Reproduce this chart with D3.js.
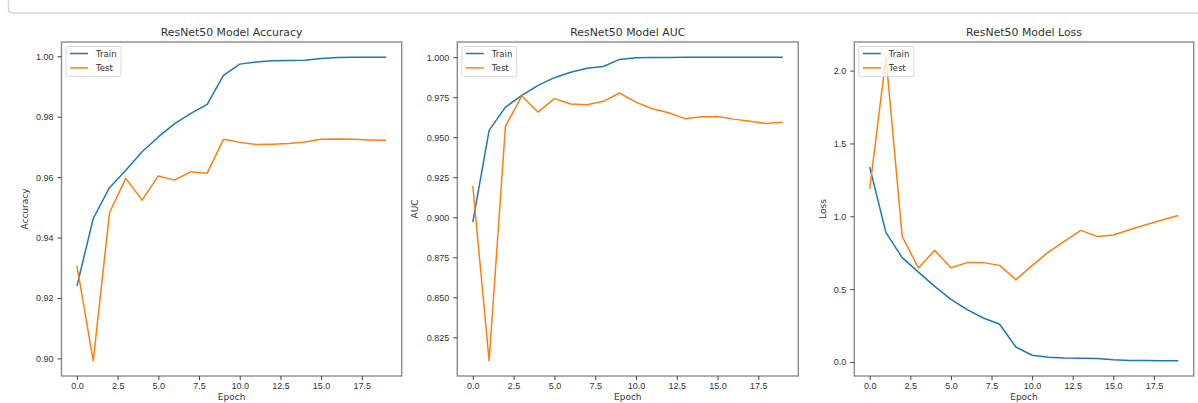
<!DOCTYPE html>
<html>
<head>
<meta charset="utf-8">
<script src="https://cdn.jsdelivr.net/npm/d3@7"></script>
<style>
  body { margin: 0; background: #fff; }
  svg { display: block; font-family: "DejaVu Sans", sans-serif; }
  .axis path { display: none; }
  .axis line { stroke: #444; }
  .axis text { fill: #333; font-size: 9px; }
  .chart-title { font-size: 10.9px; fill: #333; }
  .axis-label { font-size: 9px; fill: #333; }
  .legend text { font-size: 8.6px; fill: #333; }
</style>
</head>
<body>
<div id="figure"></div>
<script>
// epochs and values
const epochs = [0, 1, 2, 3, 4, 5, 6, 7, 8, 9, 10, 11, 12, 13, 14, 15, 16, 17, 18, 19];
const seriesNames = ["Train", "Test"];

const accTrain = [0.924, 0.9463, 0.9565, 0.9623, 0.9684, 0.9733, 0.9777, 0.9811, 0.9841, 0.9937,
                  0.9974, 0.9981, 0.9985, 0.9986, 0.9987, 0.9993, 0.9996, 0.9997, 0.9997, 0.9997];
const accTest = [0.9306, 0.8992, 0.9482, 0.9596, 0.9524, 0.9604, 0.959, 0.9618, 0.9613, 0.9725,
                 0.9715, 0.9708, 0.9709, 0.9711, 0.9716, 0.9725, 0.9726, 0.9725, 0.9723, 0.9722];

const aucTrain = [0.897, 0.9543, 0.9688, 0.9761, 0.9824, 0.9872, 0.9906, 0.9931, 0.9942, 0.9986,
                  0.9996, 0.9998, 0.9998, 0.9999, 0.9999, 0.9999, 1.0, 1.0, 1.0, 1.0];
const aucTest = [0.9196, 0.8103, 0.9568, 0.9757, 0.9657, 0.9741, 0.9707, 0.9703, 0.9724, 0.9776,
                 0.9719, 0.9678, 0.9653, 0.9616, 0.9628, 0.963, 0.9613, 0.9599, 0.9585, 0.9593];

const lossTrain = [1.337, 0.8875, 0.716, 0.617, 0.519, 0.43, 0.359, 0.302, 0.259, 0.103,
                   0.046, 0.032, 0.027, 0.025, 0.024, 0.015, 0.011, 0.01, 0.009, 0.008];
const lossTest = [1.189, 2.092, 0.862, 0.645, 0.766, 0.647, 0.682, 0.682, 0.663, 0.565,
                  0.661, 0.754, 0.83, 0.903, 0.862, 0.871, 0.908, 0.942, 0.974, 1.006];

const xTicks = [0, 2.5, 5, 7.5, 10, 12.5, 15, 17.5];
const accTicks = [0.90, 0.92, 0.94, 0.96, 0.98, 1.00];
const aucTicks = [0.825, 0.850, 0.875, 0.900, 0.925, 0.950, 0.975, 1.000];
const lossTicks = [0.0, 0.5, 1.0, 1.5, 2.0];

const colors = ["#1f77b4", "#ff7f0e"];

const W = 1198, H = 403;
const svg = d3.select("#figure").append("svg")
    .attr("width", W)
    .attr("height", H);

// faint border left over from the notebook cell above
svg.append("path")
    .attr("d", "M8.5,0 V9 Q8.5,13 12.5,13 H1198")
    .attr("fill", "none")
    .attr("stroke", "#d8d8d8")
    .attr("stroke-width", 1.5);

function LinePanel(opts) {
    this.left = opts.left;
    this.right = opts.right;
    this.top = 42;
    this.bottom = 376;
    this.title = opts.title;
    this.ylabel = opts.ylabel;
    this.ylabelX = opts.ylabelX;
    this.series = opts.series;
    this.yTicks = opts.yTicks;
    this.yFormat = opts.yFormat;
}

LinePanel.prototype = {
    constructor: LinePanel,

    init: function() {
        let self = this;
        let all = self.series[0].concat(self.series[1]);
        let lo = d3.min(all), hi = d3.max(all);
        let pad = (hi - lo) * 0.05;

        self.x = d3.scaleLinear()
            .domain([-0.95, 19.95])
            .range([self.left, self.right]);
        self.y = d3.scaleLinear()
            .domain([lo - pad, hi + pad])
            .range([self.bottom, self.top]);

        let g = svg.append("g");

        let line = d3.line()
            .x((d, i) => self.x(epochs[i]))
            .y(d => self.y(d));

        self.series.forEach(function(s, k) {
            g.append("path")
                .datum(s)
                .attr("fill", "none")
                .attr("stroke", colors[k])
                .attr("stroke-width", 1.5)
                .attr("stroke-linejoin", "round")
                .attr("d", line);
        });

        g.append("rect")
            .attr("x", self.left)
            .attr("y", self.top)
            .attr("width", self.right - self.left)
            .attr("height", self.bottom - self.top)
            .attr("fill", "none")
            .attr("stroke", "#8a8a8a")
            .attr("stroke-width", 1.4);

        g.append("g")
            .attr("class", "axis")
            .attr("transform", "translate(0," + self.bottom + ")")
            .call(d3.axisBottom(self.x)
                .tickValues(xTicks)
                .tickSize(4)
                .tickPadding(3)
                .tickFormat(d3.format(".1f")));

        g.append("g")
            .attr("class", "axis")
            .attr("transform", "translate(" + self.left + ",0)")
            .call(d3.axisLeft(self.y)
                .tickValues(self.yTicks)
                .tickSize(4)
                .tickPadding(4)
                .tickFormat(d3.format(self.yFormat)));

        g.append("text")
            .attr("class", "chart-title")
            .attr("x", (self.left + self.right) / 2)
            .attr("y", 36)
            .attr("text-anchor", "middle")
            .text(self.title);

        // the reference crops this label at the bottom; keep it just inside
        g.append("text")
            .attr("class", "axis-label")
            .attr("x", (self.left + self.right) / 2)
            .attr("y", 400)
            .attr("text-anchor", "middle")
            .text("Epoch");

        g.append("text")
            .attr("class", "axis-label")
            .attr("transform", "translate(" + self.ylabelX + "," + ((self.top + self.bottom) / 2) + ") rotate(-90)")
            .attr("text-anchor", "middle")
            .attr("dy", "0.35em")
            .text(self.ylabel);

        // legend, upper left
        let lg = g.append("g")
            .attr("class", "legend")
            .attr("transform", "translate(" + (self.left + 4.5) + "," + (self.top + 4.5) + ")");
        lg.append("rect")
            .attr("width", 55)
            .attr("height", 30)
            .attr("rx", 2)
            .attr("fill", "#fff")
            .attr("fill-opacity", 0.8)
            .attr("stroke", "#d0d0d0")
            .attr("stroke-width", 0.8);
        seriesNames.forEach(function(name, k) {
            let yy = 7 + k * 14.4;
            lg.append("line")
                .attr("x1", 4).attr("x2", 22)
                .attr("y1", yy).attr("y2", yy)
                .attr("stroke", colors[k])
                .attr("stroke-width", 1.5);
            lg.append("text")
                .attr("x", 30)
                .attr("y", yy)
                .attr("dy", "0.35em")
                .text(name);
        });
    }
};

new LinePanel({
    left: 61.5, right: 401.7,
    title: "ResNet50 Model Accuracy", ylabel: "Accuracy", ylabelX: 25,
    series: [accTrain, accTest], yTicks: accTicks, yFormat: ".2f"
}).init();

new LinePanel({
    left: 457.3, right: 798.3,
    title: "ResNet50 Model AUC", ylabel: "AUC", ylabelX: 415,
    series: [aucTrain, aucTest], yTicks: aucTicks, yFormat: ".3f"
}).init();

new LinePanel({
    left: 854.3, right: 1193.7,
    title: "ResNet50 Model Loss", ylabel: "Loss", ylabelX: 823,
    series: [lossTrain, lossTest], yTicks: lossTicks, yFormat: ".1f"
}).init();
</script>
</body>
</html>
